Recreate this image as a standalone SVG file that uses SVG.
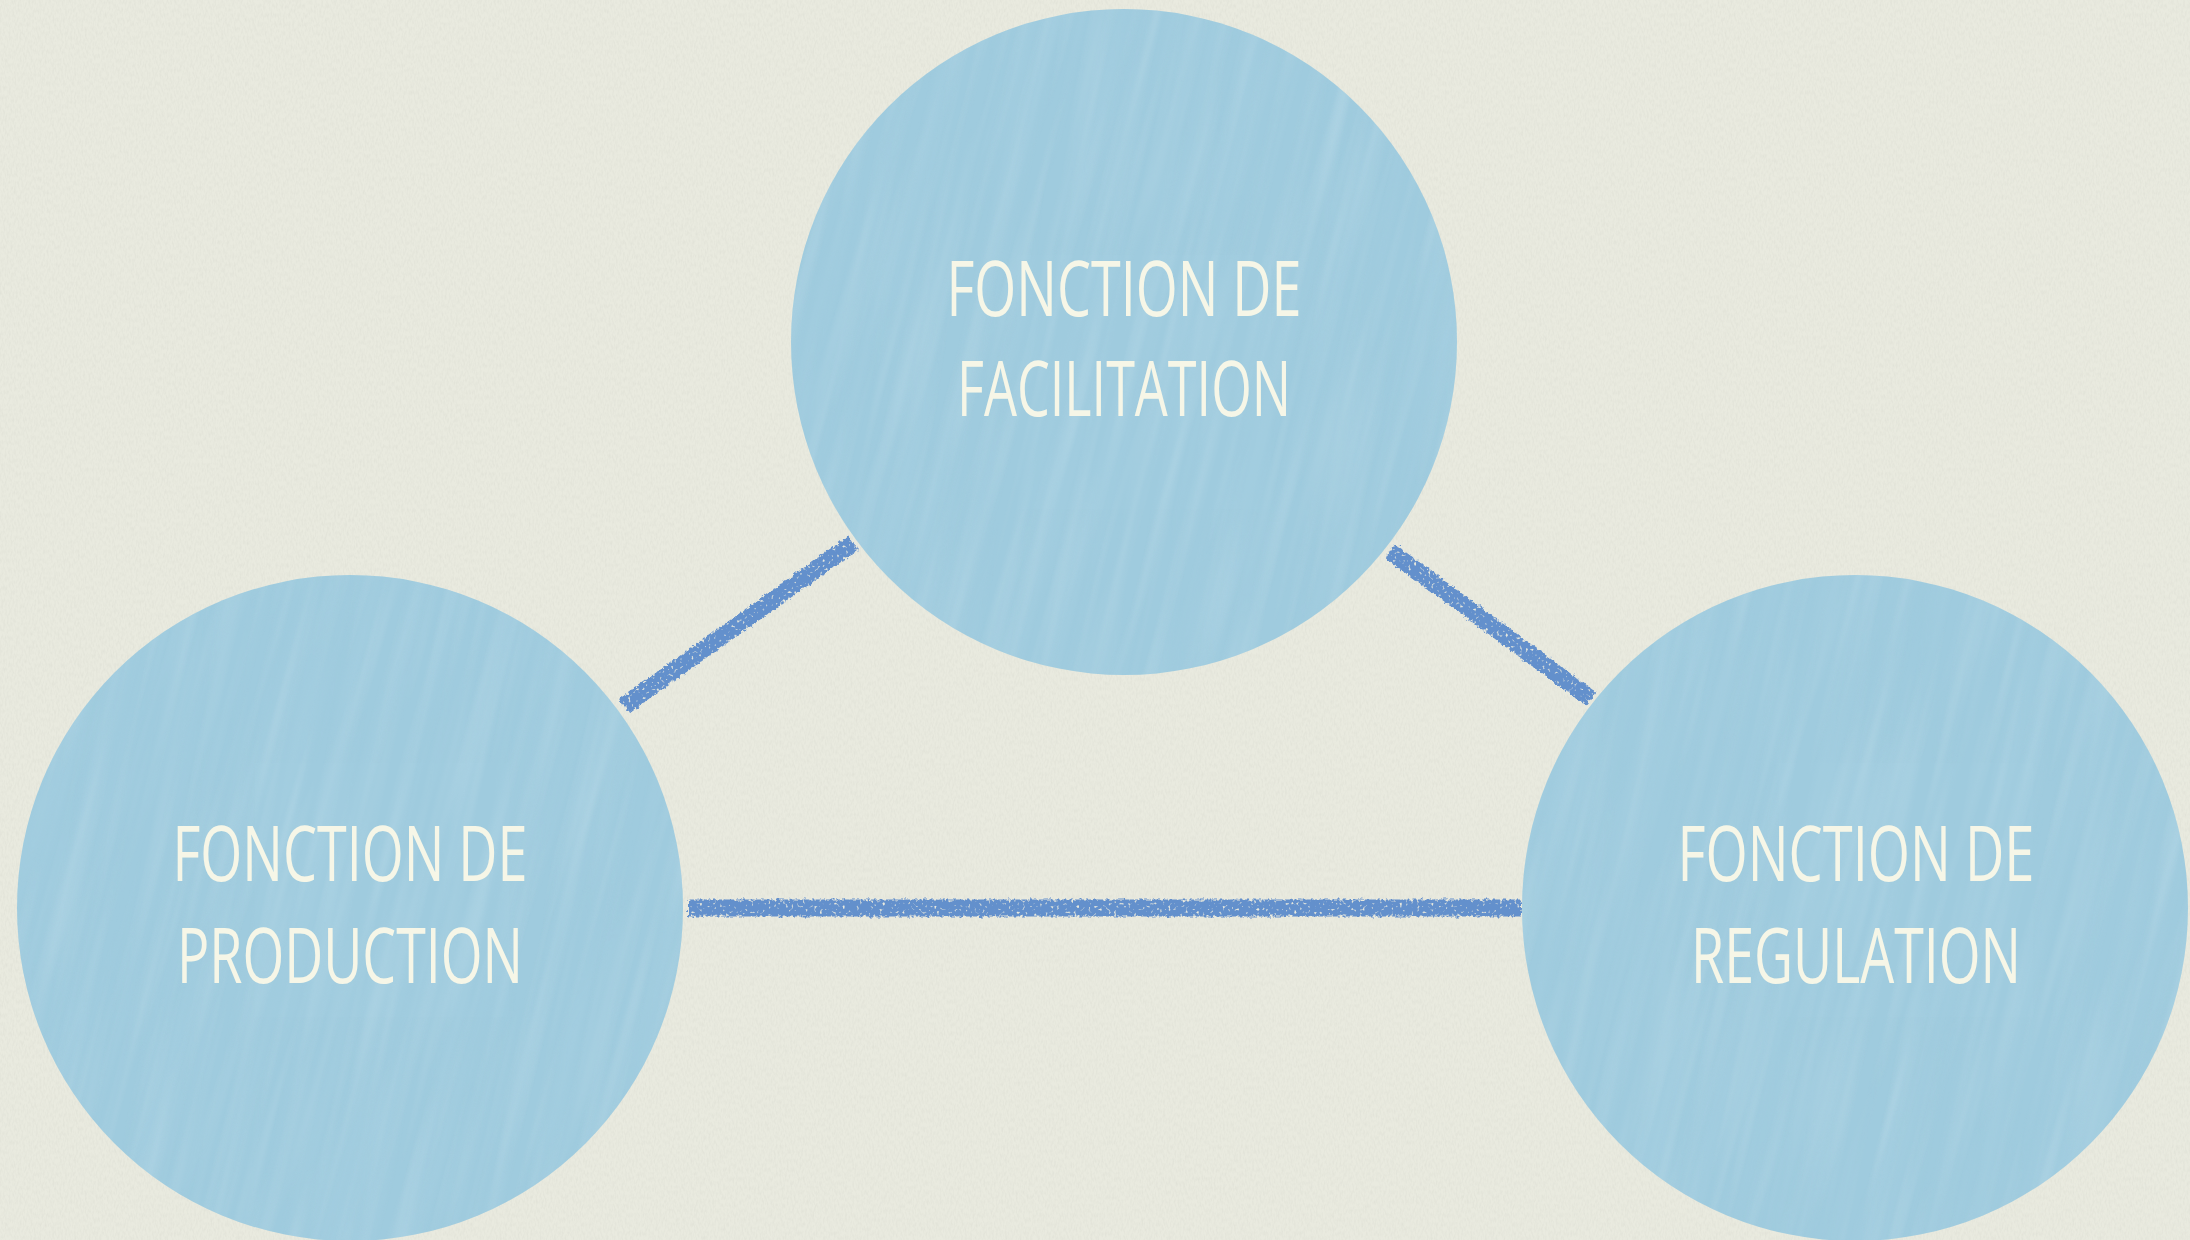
<svg xmlns="http://www.w3.org/2000/svg" width="2190" height="1240" viewBox="0 0 2190 1240">
  <style>
    .label { font-family: "Open Sans", "Liberation Sans", sans-serif; font-weight: 400; font-size: 76px; fill: #f6f6e7; text-anchor: middle; }
    .disc { fill: #9fcbde; }
    .link { stroke: #6490cc; stroke-width: 17; stroke-linecap: butt; fill: none; filter: url(#chalk); }
  </style>
  <defs>
    <!-- canvas grain for the paper background -->
    <filter id="grain" x="0" y="0" width="100%" height="100%">
      <feTurbulence type="fractalNoise" baseFrequency="0.55 0.22" numOctaves="2" seed="7"/>
      <feColorMatrix type="matrix" values="0 0 0 0 0.55  0 0 0 0 0.56  0 0 0 0 0.5  1.1 0 0 0 -0.42"/>
    </filter>
    <!-- brushed streaks inside the discs -->
    <filter id="streaks" x="0" y="0" width="100%" height="100%">
      <feTurbulence type="fractalNoise" baseFrequency="0.05 0.0025" numOctaves="3" seed="3"/>
      <feColorMatrix type="matrix" values="0 0 0 0 0.45  0 0 0 0 0.68  0 0 0 0 0.8  1.3 0 0 0 -0.5"/>
    </filter>
    <filter id="streaksLight" x="0" y="0" width="100%" height="100%">
      <feTurbulence type="fractalNoise" baseFrequency="0.07 0.004" numOctaves="2" seed="11"/>
      <feColorMatrix type="matrix" values="0 0 0 0 0.75  0 0 0 0 0.87  0 0 0 0 0.92  1.3 0 0 0 -0.52"/>
    </filter>
    <!-- rough chalk edge for the connectors -->
    <filter id="chalk" filterUnits="userSpaceOnUse" x="0" y="0" width="2190" height="1240">
      <feTurbulence type="fractalNoise" baseFrequency="0.3" numOctaves="2" seed="5" result="n"/>
      <feDisplacementMap in="SourceGraphic" in2="n" scale="6" xChannelSelector="R" yChannelSelector="G" result="d"/>
      <feTurbulence type="fractalNoise" baseFrequency="0.35" numOctaves="1" seed="9" result="h"/>
      <feColorMatrix in="h" type="matrix" values="0 0 0 0 0  0 0 0 0 0  0 0 0 0 0  -6 0 0 0 4.6" result="mask"/>
      <feComposite in="d" in2="mask" operator="in"/>
    </filter>
    <clipPath id="discs">
      <circle cx="1124" cy="342" r="333"/>
      <circle cx="350" cy="908" r="333"/>
      <circle cx="1855" cy="908" r="333"/>
    </clipPath>
  </defs>

  <!-- paper background -->
  <rect width="2190" height="1240" fill="#e9eadf"/>
  <rect width="2190" height="1240" filter="url(#grain)" opacity="0.35"/>

  <!-- connectors -->
  <g id="connectors">
    <line class="link" x1="624" y1="706" x2="853" y2="543"/>
    <line class="link" x1="1390" y1="551" x2="1591" y2="699"/>
    <line class="link" x1="688" y1="908" x2="1521" y2="908"/>
  </g>

  <!-- disc fills with a shared brushed texture -->
  <g id="disc-fills">
    <circle class="disc" cx="1124" cy="342" r="333"/>
    <circle class="disc" cx="350" cy="908" r="333"/>
    <circle class="disc" cx="1855" cy="908" r="333"/>
  </g>
  <g clip-path="url(#discs)">
    <g transform="rotate(14 1095 620)">
      <rect x="-400" y="-500" width="3000" height="2300" filter="url(#streaks)" opacity="0.4"/>
      <rect x="-400" y="-500" width="3000" height="2300" filter="url(#streaksLight)" opacity="0.25"/>
    </g>
  </g>

  <g id="node-facilitation">
    <text class="label" x="1124" y="316" textLength="355" lengthAdjust="spacingAndGlyphs">FONCTION DE</text>
    <text class="label" x="1124" y="416" textLength="334" lengthAdjust="spacingAndGlyphs">FACILITATION</text>
  </g>
  <g id="node-production">
    <text class="label" x="350" y="881" textLength="355" lengthAdjust="spacingAndGlyphs">FONCTION DE</text>
    <text class="label" x="350" y="983" textLength="346" lengthAdjust="spacingAndGlyphs">PRODUCTION</text>
  </g>
  <g id="node-regulation">
    <text class="label" x="1856" y="881" textLength="357" lengthAdjust="spacingAndGlyphs">FONCTION DE</text>
    <text class="label" x="1856" y="983" textLength="330" lengthAdjust="spacingAndGlyphs">REGULATION</text>
  </g>
</svg>
